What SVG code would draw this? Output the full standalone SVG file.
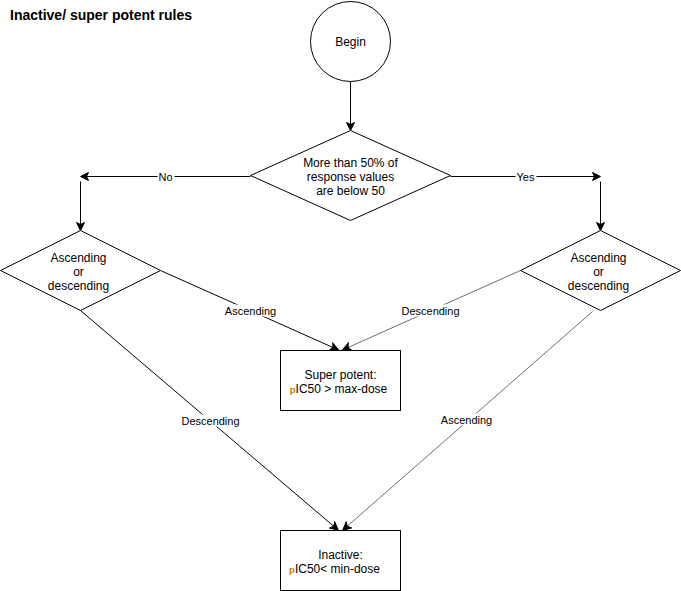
<svg xmlns="http://www.w3.org/2000/svg" width="681" height="591" viewBox="0 0 681 591">
<style>
.shape{fill:#fff;stroke:#000;stroke-width:1}
.t{font-family:"Liberation Sans",Arial,sans-serif;font-size:12px;fill:#000;text-anchor:middle}
.lbl{font-family:"Liberation Sans",Arial,sans-serif;font-size:11px;fill:#000;text-anchor:middle}
.e{fill:none;stroke:#000;stroke-width:1}
.g{fill:none;stroke:#6e6e6e;stroke-width:1}
.bg{fill:#fff}
</style>
<defs>
<marker id="ar" markerWidth="10" markerHeight="10" refX="8" refY="5" orient="auto" markerUnits="userSpaceOnUse">
<path d="M1,1 L9,5 L1,9 L3,5 Z" fill="#000" stroke="#000" stroke-width="1"/>
</marker>
<linearGradient id="pg" x1="0" y1="0" x2="1" y2="0">
<stop offset="0" stop-color="#d07a00"/>
<stop offset="1" stop-color="#1a3fa0"/>
</linearGradient>
</defs>
<rect width="681" height="591" fill="#fff"/>
<text x="10" y="20" style="font-family:'Liberation Sans',Arial,sans-serif;font-size:14px;font-weight:bold">Inactive/ super potent rules</text>
<g transform="translate(0.5,0.5)">
<g id="connectors">
<path class="e" d="M350,81 L350,129" marker-end="url(#ar)"/>
<path class="e" d="M250,176 L81,176" marker-end="url(#ar)"/>
<path class="e" d="M450,176 L599,176" marker-end="url(#ar)"/>
<path class="e" d="M80,181 L80,229" marker-end="url(#ar)"/>
<path class="e" d="M600,181 L600,229" marker-end="url(#ar)"/>
<path class="e" d="M160,270 L337,349" marker-end="url(#ar)"/>
<path class="g" d="M520,270 L343,349" marker-end="url(#ar)"/>
<path class="e" d="M80,310 L337,529" marker-end="url(#ar)"/>
<path class="g" d="M592,311 L343,529" marker-end="url(#ar)"/>
<rect class="bg" x="157" y="170" width="17" height="12"/>
<text class="lbl" x="165" y="180">No</text>
<rect class="bg" x="515" y="170" width="21" height="12"/>
<text class="lbl" x="525" y="180">Yes</text>
<rect class="bg" x="223" y="304" width="54" height="12"/>
<text class="lbl" x="250" y="314">Ascending</text>
<rect class="bg" x="400" y="304" width="60" height="12"/>
<text class="lbl" x="430" y="314">Descending</text>
<rect class="bg" x="180" y="414" width="60" height="12"/>
<text class="lbl" x="210" y="424">Descending</text>
<rect class="bg" x="439" y="413" width="54" height="12"/>
<text class="lbl" x="466" y="423">Ascending</text>
</g>

<g id="begin">
<circle class="shape" cx="350" cy="41" r="40"/>
<text class="t" x="350" y="45">Begin</text>
</g>

<g id="decision-main">
<path class="shape" d="M350,130 L450,175 L350,220 L250,175 Z"/>
<text class="t" x="350" y="166">More than 50% of</text>
<text class="t" x="350" y="180">response values</text>
<text class="t" x="350" y="194">are below 50</text>
</g>

<g id="decision-left">
<path class="shape" d="M80,230 L160,270 L80,310 L0,270 Z"/>
<text class="t" x="78" y="261">Ascending</text>
<text class="t" x="78" y="275">or</text>
<text class="t" x="78" y="289">descending</text>
</g>

<g id="decision-right">
<path class="shape" d="M600,230 L680,270 L600,310 L520,270 Z"/>
<text class="t" x="598" y="261">Ascending</text>
<text class="t" x="598" y="275">or</text>
<text class="t" x="598" y="289">descending</text>
</g>

<g id="super-potent">
<rect class="shape" x="280" y="350" width="120" height="60"/>
<text class="t" x="340" y="378">Super potent:</text>
<text class="t" x="338" y="392"><tspan font-weight="bold" font-size="9.5" fill="url(#pg)">p</tspan>IC50 &gt; max-dose</text>
</g>

<g id="inactive">
<rect class="shape" x="280" y="530" width="120" height="60"/>
<text class="t" x="340" y="558">Inactive:</text>
<text class="t" x="334" y="572"><tspan font-weight="bold" font-size="9.5" fill="url(#pg)">p</tspan>IC50&lt; min-dose</text>
</g>
</g>
</svg>
